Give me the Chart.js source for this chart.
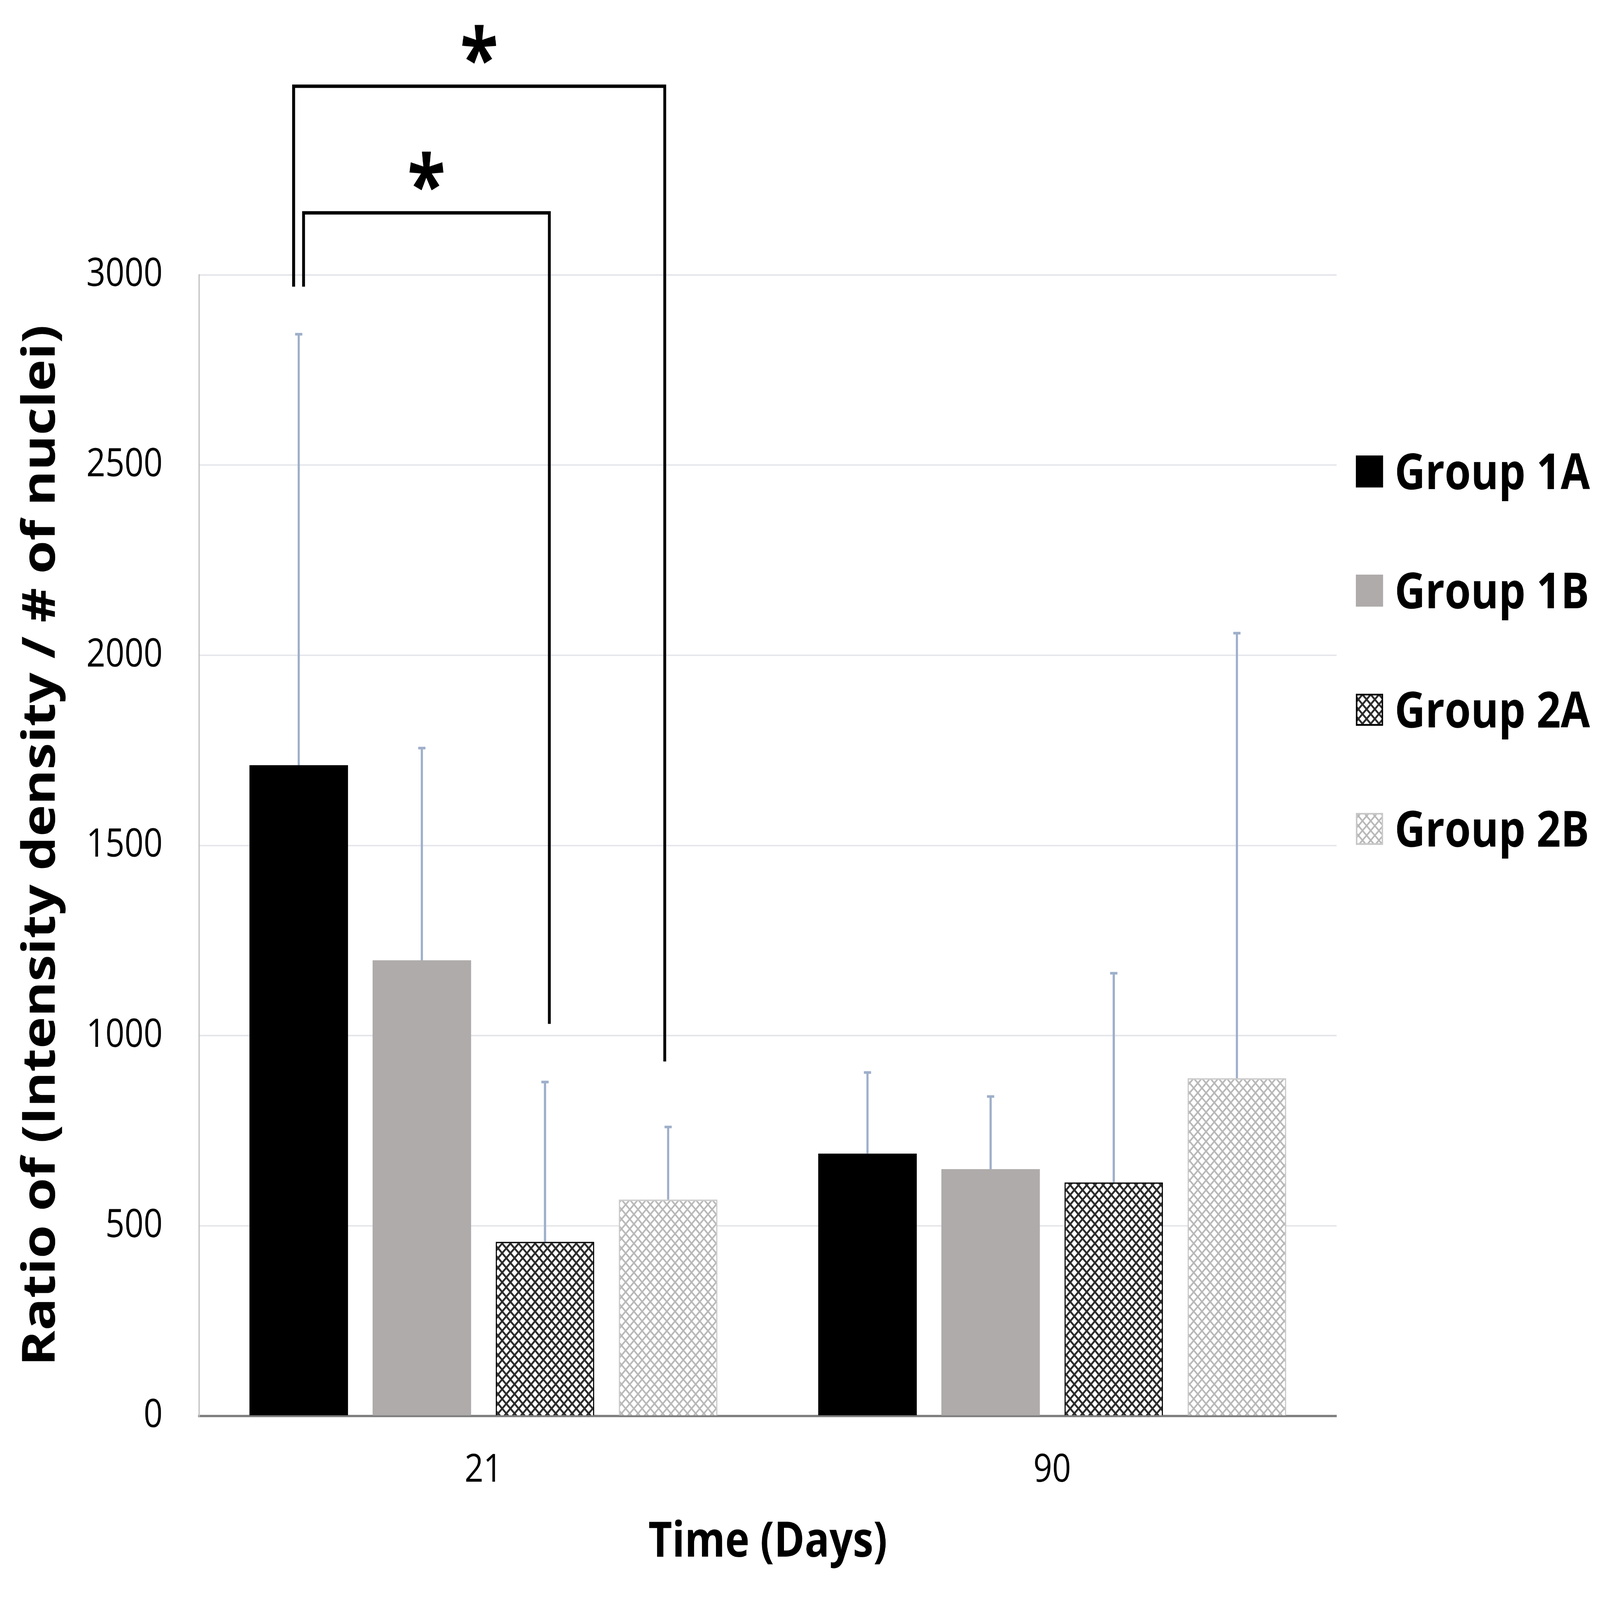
<!DOCTYPE html>
<html>
<head>
<meta charset="utf-8">
<script src="https://cdn.jsdelivr.net/npm/chart.js@4.4.0/dist/chart.umd.min.js"></script>
<style>
  html, body { margin: 0; padding: 0; background: #fff; overflow: hidden; }
  #grafico { display: block; width: 100vw !important; height: 100vh !important; }
</style>
</head>
<body>
<canvas id="grafico" width="6608" height="5600"></canvas>
<script>
// datos
const dias = ["21", "90"];
const grupos = ["Group 1A", "Group 1B", "Group 2A", "Group 2B"];
const grupo1A = [1711, 690];
const grupo1B = [1198, 649];
const grupo2A = [458, 614];
const grupo2B = [569, 888];
// desvio (solo se dibuja hacia arriba)
const sd1A = [1133, 213];
const sd1B = [558, 191];
const sd2A = [420, 550];
const sd2B = [191, 1170];
const ticksY = [0, 500, 1000, 1500, 2000, 2500, 3000];
// corchetes de significancia (indices de grupo y alturas en unidades del eje)
const corcheteDesde = [0, 0];
const corcheteHasta = [3, 2];
const corcheteTope = [3496, 3163];
const corcheteFinIzq = [2969, 2969];
const corcheteFinDer = [932, 1031];
const corcheteMarca = ["*", "*"];

// el lienzo es de 6608x5600 y el css lo ajusta a la ventana
const ctx = document.getElementById("grafico").getContext("2d");
const fuente = "Open Sans";

function trama(color, grosor) {
  const t = document.createElement("canvas");
  t.width = 34; t.height = 34;
  const g = t.getContext("2d");
  g.fillStyle = "#fff";
  g.fillRect(0, 0, 34, 34);
  g.strokeStyle = color;
  g.lineWidth = grosor;
  for (let k = -1; k <= 1; k++) {
    g.beginPath(); g.moveTo(k * 34, 0); g.lineTo(k * 34 + 34, 34); g.stroke();
    g.beginPath(); g.moveTo(k * 34 + 34, 0); g.lineTo(k * 34, 34); g.stroke();
  }
  return ctx.createPattern(t, "repeat");
}

// desplazamientos de los brazos del corchete respecto al centro de la barra
const brazoIzq = [-21, 20];
const brazoDer = [-14, 18];

const extras = {
  id: "extras",
  afterDatasetsDraw(chart) {
    const c = chart.ctx, y = chart.scales.y;
    c.save();
    // barras de error
    c.strokeStyle = "#9eafca";
    c.lineWidth = 9;
    chart.data.datasets.forEach((ds, i) => {
      chart.getDatasetMeta(i).data.forEach((bar, j) => {
        const tope = y.getPixelForValue(ds.data[j] + ds.sd[j]);
        c.beginPath();
        c.moveTo(bar.x, bar.y);
        c.lineTo(bar.x, tope);
        c.moveTo(bar.x - 15, tope);
        c.lineTo(bar.x + 15, tope);
        c.stroke();
      });
    });
    // corchetes
    c.strokeStyle = "#000";
    c.lineWidth = 12;
    c.lineJoin = "miter";
    c.fillStyle = "#000";
    c.font = "bold 290px '" + fuente + "'";
    c.textAlign = "center";
    c.textBaseline = "alphabetic";
    corcheteTope.forEach((v, k) => {
      const x1 = chart.getDatasetMeta(corcheteDesde[k]).data[0].x + brazoIzq[k];
      const x2 = chart.getDatasetMeta(corcheteHasta[k]).data[0].x + brazoDer[k];
      const yt = y.getPixelForValue(v);
      c.beginPath();
      c.moveTo(x1, y.getPixelForValue(corcheteFinIzq[k]));
      c.lineTo(x1, yt);
      c.lineTo(x2, yt);
      c.lineTo(x2, y.getPixelForValue(corcheteFinDer[k]));
      c.stroke();
      c.fillText(corcheteMarca[k], (x1 + x2) / 2, yt + 6);
    });
    c.restore();
  },
  afterDraw(chart) {
    // leyenda a la derecha
    const c = chart.ctx;
    c.save();
    c.font = "bold 175px '" + fuente + "'";
    c.textAlign = "left";
    c.textBaseline = "alphabetic";
    chart.data.datasets.forEach((ds, i) => {
      const cy = 1650 + i * 417;
      c.fillStyle = ds.backgroundColor;
      c.fillRect(5600, cy - 56, 112, 112);
      if (ds.borderWidth) {
        c.strokeStyle = ds.borderColor;
        c.lineWidth = 6;
        c.strokeRect(5603, cy - 53, 106, 106);
      }
      c.fillStyle = "#000";
      c.fillText(ds.label, 5760, cy + 62);
    });
    c.restore();
  }
};

new Chart(ctx, {
  type: "bar",
  data: {
    labels: dias,
    datasets: [
      { label: grupos[0], data: grupo1A, sd: sd1A, backgroundColor: "#000000", borderWidth: 0 },
      { label: grupos[1], data: grupo1B, sd: sd1B, backgroundColor: "#afabab", borderWidth: 0 },
      { label: grupos[2], data: grupo2A, sd: sd2A, backgroundColor: trama("#2b2b2b", 7), borderColor: "#000000", borderWidth: 5 },
      { label: grupos[3], data: grupo2B, sd: sd2B, backgroundColor: trama("#b8b8b8", 6), borderColor: "#c9c9c9", borderWidth: 5 }
    ]
  },
  options: {
    responsive: false,
    devicePixelRatio: 1,
    animation: false,
    barPercentage: 0.8,
    categoryPercentage: 0.866,
    layout: { padding: { top: 962, right: 1088, left: 0, bottom: 0 } },
    plugins: { legend: { display: false }, tooltip: { enabled: false } },
    scales: {
      x: {
        grid: { display: false, drawTicks: false },
        border: { color: "#808080", width: 8 },
        ticks: { color: "#000", font: { family: fuente, size: 136 }, padding: 110 },
        title: { display: true, text: "Time (Days)", color: "#000", font: { family: fuente, size: 170, weight: "bold" }, padding: { top: 0, bottom: 98 } },
        afterFit: s => { s.height = 644; }
      },
      y: {
        min: 0,
        max: 3000,
        afterBuildTicks: s => { s.ticks = ticksY.map(v => ({ value: v })); },
        grid: { color: "#e4e5ea", lineWidth: 5, drawTicks: false },
        border: { color: "#c0c0c0", width: 5 },
        ticks: { color: "#000", font: { family: fuente, size: 138 }, padding: 150, callback: v => String(v) },
        title: { display: true, text: "Ratio of (Intensity density / # of nuclei)", color: "#000", font: { family: fuente, size: 188, weight: "bold" }, padding: { top: 60, bottom: 0 } },
        afterFit: s => { s.width = 822; }
      }
    }
  },
  plugins: [extras]
});
</script>
</body>
</html>
